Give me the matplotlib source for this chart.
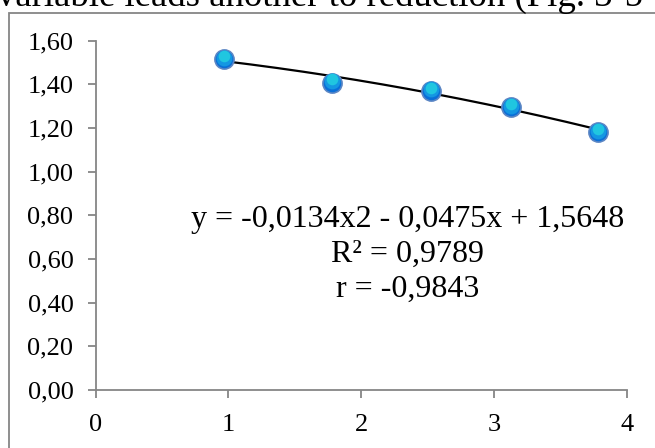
import matplotlib
matplotlib.use("Agg")
from matplotlib import pyplot as plt
from matplotlib.patches import Rectangle
from matplotlib import transforms
import numpy as np

plt.rcParams['font.family'] = ['Liberation Serif', 'DejaVu Serif']

# data
x_vals = [0.969, 1.778, 2.526, 3.126, 3.786]
y_vals = [1.514, 1.408, 1.370, 1.294, 1.180]
coef = [-0.0134, -0.0475, 1.5648]   # trend line y = a*x^2 + b*x + c
x_ticks = [0, 1, 2, 3, 4]
y_ticks = [0.0, 0.2, 0.4, 0.6, 0.8, 1.0, 1.2, 1.4, 1.6]
eq_lines = ["y = -0,0134x2 - 0,0475x + 1,5648", "R² = 0,9789", "r = -0,9843"]
header = "variable leads another to reduction (Fig. 3-5"

fig = plt.figure(figsize=(6.55, 4.48), dpi=100)
ax = fig.add_axes([0.1461, 0.1295, 0.9568 - 0.1461, 0.9092 - 0.1295])

# outer chart frame (runs off the right/bottom of the crop)
fig.patches.append(Rectangle((9 / 655, -0.2), 1.5, 0.972 + 0.2, transform=fig.transFigure,
                             fill=False, edgecolor="#868686", linewidth=1.3))
fig.text(-3 / 655, 1 - 6 / 448, header, fontsize=26.5, va="baseline", ha="left")

gray = "#868686"
xs = np.linspace(min(x_vals), max(x_vals), 200)
ax.plot(xs, np.polyval(coef, xs), color="black", linewidth=1.6, zorder=3)

# shaded balls: dark base, lighter layers nudged upwards
ax.scatter(x_vals, y_vals, s=190, color="#0a6fd8", edgecolors="#5b86c4", linewidths=1.2, zorder=4)
hl1 = transforms.offset_copy(ax.transData, fig=fig, x=0, y=1.2, units="points")
ax.scatter(x_vals, y_vals, s=130, color="#1497e2", linewidths=0, transform=hl1, zorder=5)
hl2 = transforms.offset_copy(ax.transData, fig=fig, x=0, y=2.4, units="points")
ax.scatter(x_vals, y_vals, s=70, color="#20c6e0", linewidths=0, transform=hl2, zorder=6)

ax.set_xlim(0, 4)
ax.set_ylim(0, 1.6)
ax.set_xticks(x_ticks)
ax.set_yticks(y_ticks)
ax.set_yticklabels([f"{v:.2f}".replace(".", ",") for v in y_ticks])
ax.set_xticklabels([str(v) for v in x_ticks])
for s in ["top", "right"]:
    ax.spines[s].set_visible(False)
for s in ["left", "bottom"]:
    ax.spines[s].set_color(gray)
    ax.spines[s].set_linewidth(1.3)
ax.tick_params(axis="both", colors=gray, labelcolor="black", labelsize=19, length=6, width=1.3)
ax.tick_params(axis="y", pad=10)
ax.tick_params(axis="x", pad=11)

tr = transforms.blended_transform_factory(ax.transData, fig.transFigure)
for i, line in enumerate(eq_lines):
    ax.text((407.5 - 95.7) / 132.75, 1 - (219 + 35 * i) / 448, line, fontsize=23,
            ha="center", va="center", transform=tr)

fig.savefig("out.png", dpi=100)
